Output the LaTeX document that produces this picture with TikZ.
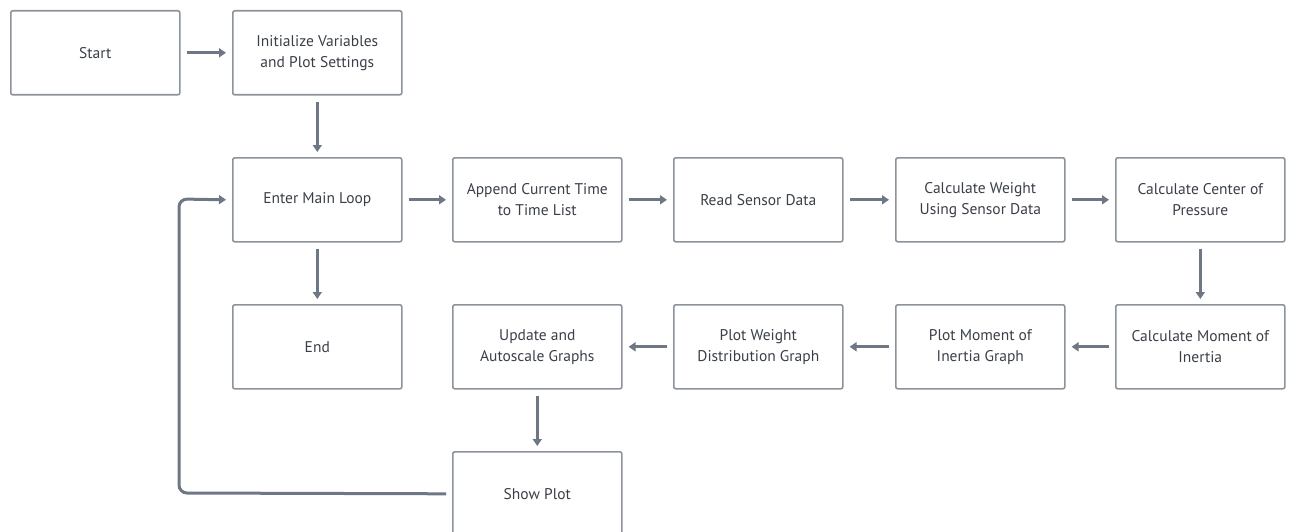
\documentclass[tikz,border=0pt]{standalone}
\usepackage{fontspec}
\setmainfont{PT Sans}
\usetikzlibrary{arrows.meta}
\definecolor{boxline}{HTML}{8C939B}
\definecolor{arrowc}{HTML}{6E7884}
\definecolor{txt}{HTML}{3A3F47}
\begin{document}
\begin{tikzpicture}[x=1pt,y=-1pt,
  stepbox/.style={draw=boxline,line width=1.6pt,rounded corners=2pt,minimum width=169pt,minimum height=84pt,
    align=center,font=\fontsize{15.5}{21}\selectfont,text=txt,anchor=north west,inner sep=0pt},
  flow/.style={draw=arrowc,line width=3pt,-{Triangle[length=7pt,width=9pt]}}]
\useasboundingbox (0,0) rectangle (1292,532);
\begin{scope}
\clip (0,0) rectangle (1292,532);
\node[stepbox] (start) at (10,10) {Start};
\node[stepbox] (init) at (232,10) {Initialize Variables\\and Plot Settings};
\node[stepbox] (loop) at (232,157) {Enter Main Loop};
\node[stepbox] (append) at (452,157) {Append Current Time\\to Time List};
\node[stepbox] (read) at (673,157) {Read Sensor Data};
\node[stepbox] (weight) at (895,157) {Calculate Weight\\Using Sensor Data};
\node[stepbox] (cop) at (1115,157) {Calculate Center of\\Pressure};
\node[stepbox] (end) at (232,304) {End};
\node[stepbox] (update) at (452,304) {Update and\\Autoscale Graphs};
\node[stepbox] (plotw) at (673,304) {Plot Weight\\Distribution Graph};
\node[stepbox] (ploti) at (895,304) {Plot Moment of\\Inertia Graph};
\node[stepbox] (moi) at (1115,304) {Calculate Moment of\\Inertia};
\node[stepbox] (show) at (452,451) {Show Plot};

\draw[flow] ([xshift=6pt]start.east) -- ([xshift=-6pt]init.west);
\draw[flow] ([yshift=-6pt]init.south) -- ([yshift=5pt]loop.north);
\draw[flow] ([xshift=6pt]loop.east) -- ([xshift=-6pt]append.west);
\draw[flow] ([xshift=6pt]append.east) -- ([xshift=-6pt]read.west);
\draw[flow] ([xshift=6pt]read.east) -- ([xshift=-6pt]weight.west);
\draw[flow] ([xshift=6pt]weight.east) -- ([xshift=-6pt]cop.west);
\draw[flow] ([yshift=-6pt]cop.south) -- ([yshift=5pt]moi.north);
\draw[flow] ([xshift=-6pt]moi.west) -- ([xshift=6pt]ploti.east);
\draw[flow] ([xshift=-6pt]ploti.west) -- ([xshift=6pt]plotw.east);
\draw[flow] ([xshift=-6pt]plotw.west) -- ([xshift=6pt]update.east);
\draw[flow] ([yshift=-6pt]loop.south) -- ([yshift=5pt]end.north);
\draw[flow] ([yshift=-6pt]update.south) -- ([yshift=5pt]show.north);
\coordinate (c1) at (179,493);
\coordinate (c2) at (179,199);
\draw[flow,rounded corners=8pt] ([xshift=-6pt]show.west) -- (c1) -- (c2) -- ([xshift=-6pt]loop.west);
\end{scope}
\end{tikzpicture}
\end{document}
